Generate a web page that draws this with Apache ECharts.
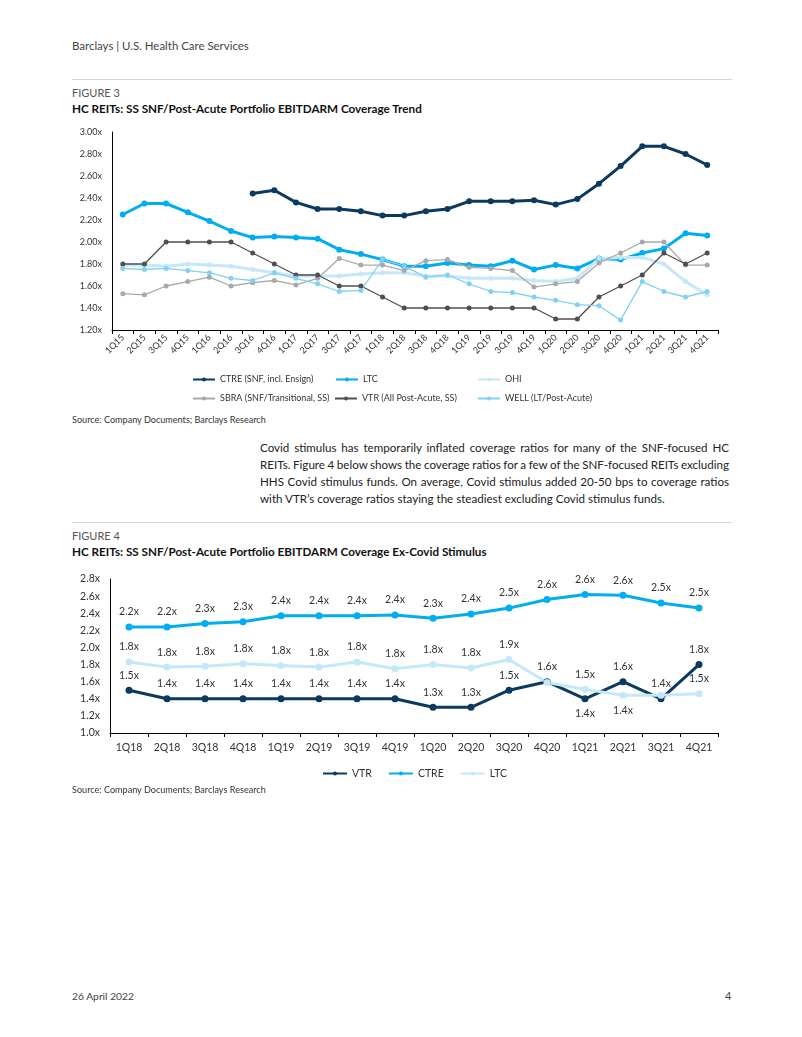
<!DOCTYPE html>
<html><head><meta charset="utf-8">
<script src="https://cdn.jsdelivr.net/npm/echarts@6/dist/echarts.min.js"></script>
<style>
html,body{margin:0;padding:0;background:#fff;}
body{width:802px;height:1037px;position:relative;overflow:hidden;font-family:Lato,'Open Sans',sans-serif;color:#222;}
.t{position:absolute;white-space:nowrap;transform:translateY(-50%);line-height:1.2;}
.rule{position:absolute;left:72px;width:660px;height:1px;background:#d6d6d6;}
#c1{position:absolute;left:0;top:120px;width:802px;height:290px;}
#c2{position:absolute;left:0;top:560px;width:802px;height:225px;}
</style></head>
<body>
<div class="t fit" data-w="177" style="left:72px;top:46px;font-size:12px;color:#444;">Barclays | U.S. Health Care Services</div>
<div class="rule" style="top:79px;"></div>
<div class="t" style="left:72px;top:93px;font-size:11px;color:#555;">FIGURE 3</div>
<div class="t fit" data-w="350" style="left:72px;top:108px;font-size:12px;font-weight:bold;color:#111;">HC REITs: SS SNF/Post-Acute Portfolio EBITDARM Coverage Trend</div>
<div id="c1"></div>
<div class="t fit" data-w="194" style="left:72px;top:420px;font-size:9px;color:#333;">Source: Company Documents; Barclays Research</div>

<div class="t pj" style="left:260px;top:448px;font-size:12px;color:#222;">Covid stimulus has temporarily inflated coverage ratios for many of the SNF-focused HC</div>
<div class="t pj" style="left:260px;top:465px;font-size:12px;color:#222;">REITs. Figure 4 below shows the coverage ratios for a few of the SNF-focused REITs excluding</div>
<div class="t pj" style="left:260px;top:482px;font-size:12px;color:#222;">HHS Covid stimulus funds. On average, Covid stimulus added 20-50 bps to coverage ratios</div>
<div class="t pl" style="left:260px;top:499px;font-size:12px;color:#222;">with VTR’s coverage ratios staying the steadiest excluding Covid stimulus funds.</div>

<div class="rule" style="top:522px;"></div>
<div class="t" style="left:72px;top:536px;font-size:11px;color:#555;">FIGURE 4</div>
<div class="t fit" data-w="415" style="left:72px;top:551px;font-size:12px;font-weight:bold;color:#111;">HC REITs: SS SNF/Post-Acute Portfolio EBITDARM Coverage Ex-Covid Stimulus</div>
<div id="c2"></div>
<div class="t fit" data-w="194" style="left:72px;top:790px;font-size:9px;color:#333;">Source: Company Documents; Barclays Research</div>

<div class="t fit" data-w="62" style="left:72px;top:996px;font-size:11px;color:#444;">26 April 2022</div>
<div class="t" style="left:725px;top:996px;font-size:11px;color:#444;">4</div>

<script>
// ---------- Figure 3 data ----------
const quarters3 = ['1Q15','2Q15','3Q15','4Q15','1Q16','2Q16','3Q16','4Q16','1Q17','2Q17','3Q17','4Q17','1Q18','2Q18','3Q18','4Q18','1Q19','2Q19','3Q19','4Q19','1Q20','2Q20','3Q20','4Q20','1Q21','2Q21','3Q21','4Q21'];
const ctre3 = [null,null,null,null,null,null,2.44,2.47,2.36,2.30,2.30,2.28,2.24,2.24,2.28,2.30,2.37,2.37,2.37,2.38,2.34,2.39,2.53,2.69,2.87,2.87,2.80,2.70];
const ltc3  = [2.25,2.35,2.35,2.27,2.19,2.10,2.04,2.05,2.04,2.03,1.93,1.89,1.84,1.78,1.78,1.81,1.79,1.78,1.83,1.75,1.79,1.76,1.85,1.84,1.90,1.94,2.08,2.06];
const ohi3  = [1.79,1.79,1.78,1.80,1.79,1.78,1.75,1.72,1.69,1.69,1.69,1.71,1.72,1.72,1.69,1.69,1.67,1.67,1.67,1.65,1.64,1.67,1.85,1.86,1.86,1.80,1.64,1.52];
const sbra3 = [1.53,1.52,1.60,1.64,1.68,1.60,1.63,1.65,1.61,1.67,1.85,1.79,1.79,1.74,1.83,1.84,1.77,1.76,1.74,1.59,1.62,1.64,1.81,1.90,2.00,2.00,1.79,1.79];
const vtr3  = [1.80,1.80,2.00,2.00,2.00,2.00,1.90,1.80,1.70,1.70,1.60,1.60,1.50,1.40,1.40,1.40,1.40,1.40,1.40,1.40,1.30,1.30,1.50,1.60,1.70,1.90,1.80,1.90];
const well3 = [1.76,1.75,1.76,1.74,1.72,1.67,1.65,1.72,1.67,1.62,1.55,1.56,1.84,1.78,1.68,1.70,1.62,1.55,1.54,1.50,1.47,1.43,1.42,1.29,1.64,1.55,1.50,1.55];
const names3 = ['CTRE (SNF, incl. Ensign)','LTC','OHI','SBRA (SNF/Transitional, SS)','VTR (All Post-Acute, SS)','WELL (LT/Post-Acute)'];
const yTicks3 = {min:1.2, max:3.0, step:0.2};

// ---------- Figure 4 data ----------
const quarters4 = ['1Q18','2Q18','3Q18','4Q18','1Q19','2Q19','3Q19','4Q19','1Q20','2Q20','3Q20','4Q20','1Q21','2Q21','3Q21','4Q21'];
const vtr4  = [1.50,1.40,1.40,1.40,1.40,1.40,1.40,1.40,1.30,1.30,1.50,1.60,1.40,1.60,1.40,1.80];
const ctre4 = [2.24,2.24,2.28,2.30,2.37,2.37,2.37,2.38,2.34,2.39,2.46,2.56,2.62,2.61,2.52,2.46];
const ltc4  = [1.83,1.77,1.78,1.81,1.79,1.77,1.83,1.75,1.80,1.76,1.86,1.59,1.51,1.44,1.44,1.46];
const names4 = ['VTR','CTRE','LTC'];
const yTicks4 = {min:1.0, max:2.8, step:0.2};

const FONT = 'Lato';
const NAVY = '#0b3a5e', CYAN = '#00aeef', PALE = '#c4e8f8', GREY = '#a9a9a9', DGREY = '#4f4f4f', MCYAN = '#7fd2f3';

function line(name, data, color, width, sym, extra){
  return Object.assign({
    type:'line', name, data, symbol:'circle', symbolSize:sym, showSymbol:true,
    lineStyle:{color, width}, itemStyle:{color}, emphasis:{disabled:true}, connectNulls:false
  }, extra||{});
}
function leg(name, left, top, fs){
  return {data:[name], left, top, padding:0, itemWidth:22, itemHeight:5, selectedMode:false,
    textStyle:{fontFamily:FONT, fontSize:fs, color:'#333'}};
}

// ---------- Chart 1 ----------
const c1 = echarts.init(document.getElementById('c1'));
c1.setOption({
  animation:false,
  textStyle:{fontFamily:FONT},
  grid:{left:112, right:84, top:12, height:198},
  xAxis:{type:'category', data:quarters3, boundaryGap:true,
    axisLine:{lineStyle:{color:'#000', width:1}},
    axisTick:{show:true, length:4, lineStyle:{color:'#000'}},
    axisLabel:{rotate:45, fontSize:9, color:'#333', margin:6, interval:0}},
  yAxis:{type:'value', min:yTicks3.min, max:yTicks3.max, interval:yTicks3.step,
    axisLine:{show:true, lineStyle:{color:'#000'}}, axisTick:{show:false}, splitLine:{show:false},
    axisLabel:{fontSize:9, color:'#333', margin:10, formatter:v=>v.toFixed(2)+'x'}},
  legend:[
    leg(names3[0],192,255,9), leg(names3[1],335,255,9), leg(names3[2],477,255,9),
    leg(names3[3],192,274,9), leg(names3[4],334,274,9), leg(names3[5],477,274,9)
  ],
  series:[
    line(names3[0], ctre3, NAVY, 3, 6),
    line(names3[1], ltc3, CYAN, 3, 6),
    line(names3[2], ohi3, PALE, 3, 5),
    line(names3[3], sbra3, GREY, 1.3, 5),
    line(names3[4], vtr3, DGREY, 1.3, 5),
    line(names3[5], well3, MCYAN, 1.3, 5)
  ]
});

// ---------- Chart 2 ----------
const lab = {show:true, position:'top', distance:6, fontSize:10.5, color:'#333', fontFamily:FONT,
  formatter:p=>Number(p.value).toFixed(1)+'x'};
const vtrData = vtr4.map((v,i)=> i===12 ? {value:v, label:{position:'bottom'}} : v);
const ltcData = ltc4.map((v,i)=> i===13 ? {value:v, label:{position:'bottom'}} : (i===11||i===14) ? {value:v, label:{show:false}} : v);
const c2 = echarts.init(document.getElementById('c2'));
c2.setOption({
  animation:false,
  textStyle:{fontFamily:FONT},
  grid:{left:110, right:84, top:19, height:154},
  xAxis:{type:'category', data:quarters4, boundaryGap:true,
    axisLine:{lineStyle:{color:'#000', width:1}},
    axisTick:{show:true, length:4, lineStyle:{color:'#000'}},
    axisLabel:{fontSize:10.5, color:'#333', margin:9, interval:0}},
  yAxis:{type:'value', min:yTicks4.min, max:yTicks4.max, interval:yTicks4.step,
    axisLine:{show:true, lineStyle:{color:'#000'}}, axisTick:{show:false}, splitLine:{show:false},
    axisLabel:{fontSize:10.5, color:'#333', margin:10, formatter:v=>v.toFixed(1)+'x'}},
  legend:{data:names4, left:322, top:208, padding:0, itemWidth:24, itemHeight:5, itemGap:16, selectedMode:false,
    textStyle:{fontFamily:FONT, fontSize:10.5, color:'#333'}},
  series:[
    line(names4[0], vtrData, NAVY, 3, 7, {label:lab}),
    line(names4[1], ctre4, CYAN, 3, 7, {label:lab}),
    line(names4[2], ltcData, PALE, 3, 7, {label:lab})
  ]
});

// ---------- text fitting ----------
function measure(el){
  const r = document.createElement('span');
  r.style.font = getComputedStyle(el).font;
  r.style.whiteSpace = 'nowrap';
  r.style.position='absolute'; r.style.visibility='hidden';
  r.textContent = el.textContent;
  document.body.appendChild(r);
  const w = r.getBoundingClientRect().width;
  r.remove();
  return w;
}
document.querySelectorAll('.fit').forEach(el=>{
  const target = +el.dataset.w;
  const fs = parseFloat(getComputedStyle(el).fontSize);
  const w = measure(el);
  el.style.fontSize = (fs*target/w).toFixed(2)+'px';
});
// paragraph: fit last line to 405px, justify others to 469px
const last = document.querySelector('.pl');
const fsP = parseFloat(getComputedStyle(last).fontSize);
const newFs = fsP*405/measure(last);
document.querySelectorAll('.pj,.pl').forEach(el=>{ el.style.fontSize = newFs.toFixed(2)+'px'; });
document.querySelectorAll('.pj').forEach(el=>{
  const w = measure(el);
  const spaces = (el.textContent.match(/ /g)||[]).length;
  el.style.wordSpacing = ((469-w)/spaces).toFixed(2)+'px';
});
</script>
</body></html>
